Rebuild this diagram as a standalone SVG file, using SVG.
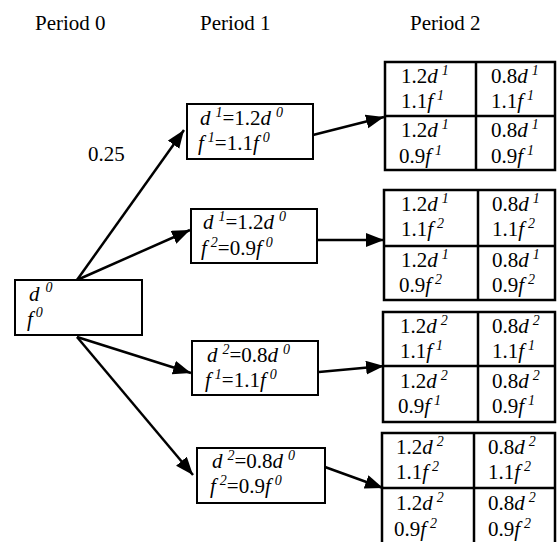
<svg xmlns="http://www.w3.org/2000/svg" width="558" height="542" viewBox="0 0 558 542">
<style>
text{font-family:'Liberation Serif','Times New Roman',serif;font-size:21px;fill:#000}
.i{font-style:italic}
.s{font-style:italic;font-size:14px}
.box{fill:#fff;stroke:#000;stroke-width:2}
.tb{fill:none;stroke:#000;stroke-width:2.5}
.cn{stroke:#000;stroke-width:2.5;fill:none;marker-end:url(#ah)}
</style>
<defs>
<marker id="ah" markerUnits="userSpaceOnUse" markerWidth="20" markerHeight="16" refX="18" refY="7" orient="auto">
<path d="M0,0 L18,7 L0,14 Z" fill="#000"/>
</marker>
</defs>
<rect width="558" height="542" fill="#fff"/>
<g id="headers">
<text x="35" y="30">Period 0</text>
<text x="200" y="30">Period 1</text>
<text x="410" y="30">Period 2</text>
</g>
<g id="connectors">
<line class="cn" x1="77" y1="280" x2="184" y2="130"/>
<line class="cn" x1="77" y1="280" x2="190" y2="230"/>
<line class="cn" x1="77" y1="337" x2="191" y2="373"/>
<line class="cn" x1="77" y1="337" x2="193" y2="475"/>
<line class="cn" x1="309" y1="136" x2="384" y2="117"/>
<line class="cn" x1="317" y1="240" x2="384" y2="240"/>
<line class="cn" x1="319" y1="372" x2="384" y2="366"/>
<line class="cn" x1="325" y1="467" x2="383" y2="488"/>
<text x="88" y="161">0.25</text>
</g>
<g id="root">
<rect class="box" x="15" y="280" width="127" height="55"/>
<text x="29" y="301"><tspan class="i">d</tspan><tspan class="s" dx="6" dy="-9">0</tspan></text>
<text x="27" y="326"><tspan class="i">f</tspan><tspan class="s" dx="3" dy="-9">0</tspan></text>
</g>
<g id="nodeA">
<rect class="box" x="187" y="104" width="126" height="55"/>
<text x="200" y="125"><tspan class="i">d</tspan><tspan class="s" dx="5" dy="-8">1</tspan><tspan dy="8">=1.2</tspan><tspan class="i">d</tspan><tspan class="s" dx="5" dy="-8">0</tspan></text>
<text x="198" y="150"><tspan class="i">f</tspan><tspan class="s" dx="4" dy="-8">1</tspan><tspan dy="8">=1.1</tspan><tspan class="i">f</tspan><tspan class="s" dx="4" dy="-8">0</tspan></text>
</g>
<g id="nodeB">
<rect class="box" x="191" y="209" width="126" height="54"/>
<text x="203" y="229"><tspan class="i">d</tspan><tspan class="s" dx="5" dy="-8">1</tspan><tspan dy="8">=1.2</tspan><tspan class="i">d</tspan><tspan class="s" dx="5" dy="-8">0</tspan></text>
<text x="201" y="255"><tspan class="i">f</tspan><tspan class="s" dx="4" dy="-8">2</tspan><tspan dy="8">=0.9</tspan><tspan class="i">f</tspan><tspan class="s" dx="4" dy="-8">0</tspan></text>
</g>
<g id="nodeC">
<rect class="box" x="192" y="341" width="126" height="54"/>
<text x="207" y="362"><tspan class="i">d</tspan><tspan class="s" dx="5" dy="-8">2</tspan><tspan dy="8">=0.8</tspan><tspan class="i">d</tspan><tspan class="s" dx="5" dy="-8">0</tspan></text>
<text x="205" y="387"><tspan class="i">f</tspan><tspan class="s" dx="4" dy="-8">1</tspan><tspan dy="8">=1.1</tspan><tspan class="i">f</tspan><tspan class="s" dx="4" dy="-8">0</tspan></text>
</g>
<g id="nodeD">
<rect class="box" x="197" y="448" width="128" height="55"/>
<text x="212" y="468"><tspan class="i">d</tspan><tspan class="s" dx="5" dy="-8">2</tspan><tspan dy="8">=0.8</tspan><tspan class="i">d</tspan><tspan class="s" dx="5" dy="-8">0</tspan></text>
<text x="210" y="493"><tspan class="i">f</tspan><tspan class="s" dx="4" dy="-8">2</tspan><tspan dy="8">=0.9</tspan><tspan class="i">f</tspan><tspan class="s" dx="4" dy="-8">0</tspan></text>
</g>
<g id="table1">
<rect class="tb" x="385" y="62" width="170" height="108"/>
<line class="tb" x1="476" y1="62" x2="476" y2="170"/>
<line class="tb" x1="385" y1="116" x2="555" y2="116"/>
<text x="401" y="83">1.2<tspan class="i">d</tspan><tspan class="s" dx="4" dy="-8">1</tspan></text>
<text x="401" y="108">1.1<tspan class="i">f</tspan><tspan class="s" dx="4" dy="-8">1</tspan></text>
<text x="491" y="83">0.8<tspan class="i">d</tspan><tspan class="s" dx="4" dy="-8">1</tspan></text>
<text x="491" y="108">1.1<tspan class="i">f</tspan><tspan class="s" dx="4" dy="-8">1</tspan></text>
<text x="401" y="137">1.2<tspan class="i">d</tspan><tspan class="s" dx="4" dy="-8">1</tspan></text>
<text x="399" y="163">0.9<tspan class="i">f</tspan><tspan class="s" dx="4" dy="-8">1</tspan></text>
<text x="491" y="137">0.8<tspan class="i">d</tspan><tspan class="s" dx="4" dy="-8">1</tspan></text>
<text x="491" y="163">0.9<tspan class="i">f</tspan><tspan class="s" dx="4" dy="-8">1</tspan></text>
</g>
<g id="table2">
<rect class="tb" x="384" y="190" width="171" height="110"/>
<line class="tb" x1="478" y1="190" x2="478" y2="300"/>
<line class="tb" x1="384" y1="246" x2="555" y2="246"/>
<text x="401" y="211">1.2<tspan class="i">d</tspan><tspan class="s" dx="4" dy="-8">1</tspan></text>
<text x="401" y="236">1.1<tspan class="i">f</tspan><tspan class="s" dx="4" dy="-8">2</tspan></text>
<text x="492" y="211">0.8<tspan class="i">d</tspan><tspan class="s" dx="4" dy="-8">1</tspan></text>
<text x="492" y="236">1.1<tspan class="i">f</tspan><tspan class="s" dx="4" dy="-8">2</tspan></text>
<text x="401" y="267">1.2<tspan class="i">d</tspan><tspan class="s" dx="4" dy="-8">1</tspan></text>
<text x="399" y="292">0.9<tspan class="i">f</tspan><tspan class="s" dx="4" dy="-8">2</tspan></text>
<text x="492" y="267">0.8<tspan class="i">d</tspan><tspan class="s" dx="4" dy="-8">1</tspan></text>
<text x="492" y="292">0.9<tspan class="i">f</tspan><tspan class="s" dx="4" dy="-8">2</tspan></text>
</g>
<g id="table3">
<rect class="tb" x="383" y="312" width="172" height="110"/>
<line class="tb" x1="478" y1="312" x2="478" y2="422"/>
<line class="tb" x1="383" y1="366" x2="555" y2="366"/>
<text x="400" y="333">1.2<tspan class="i">d</tspan><tspan class="s" dx="4" dy="-8">2</tspan></text>
<text x="400" y="358">1.1<tspan class="i">f</tspan><tspan class="s" dx="4" dy="-8">1</tspan></text>
<text x="492" y="333">0.8<tspan class="i">d</tspan><tspan class="s" dx="4" dy="-8">2</tspan></text>
<text x="492" y="358">1.1<tspan class="i">f</tspan><tspan class="s" dx="4" dy="-8">1</tspan></text>
<text x="400" y="388">1.2<tspan class="i">d</tspan><tspan class="s" dx="4" dy="-8">2</tspan></text>
<text x="398" y="413">0.9<tspan class="i">f</tspan><tspan class="s" dx="4" dy="-8">1</tspan></text>
<text x="492" y="388">0.8<tspan class="i">d</tspan><tspan class="s" dx="4" dy="-8">2</tspan></text>
<text x="492" y="413">0.9<tspan class="i">f</tspan><tspan class="s" dx="4" dy="-8">1</tspan></text>
</g>
<g id="table4">
<rect class="tb" x="382" y="433" width="173" height="115"/>
<line class="tb" x1="474" y1="433" x2="474" y2="548"/>
<line class="tb" x1="382" y1="488" x2="555" y2="488"/>
<text x="396" y="454">1.2<tspan class="i">d</tspan><tspan class="s" dx="4" dy="-8">2</tspan></text>
<text x="396" y="479">1.1<tspan class="i">f</tspan><tspan class="s" dx="4" dy="-8">2</tspan></text>
<text x="488" y="454">0.8<tspan class="i">d</tspan><tspan class="s" dx="4" dy="-8">2</tspan></text>
<text x="488" y="479">1.1<tspan class="i">f</tspan><tspan class="s" dx="4" dy="-8">2</tspan></text>
<text x="396" y="510">1.2<tspan class="i">d</tspan><tspan class="s" dx="4" dy="-8">2</tspan></text>
<text x="394" y="536">0.9<tspan class="i">f</tspan><tspan class="s" dx="4" dy="-8">2</tspan></text>
<text x="488" y="510">0.8<tspan class="i">d</tspan><tspan class="s" dx="4" dy="-8">2</tspan></text>
<text x="488" y="536">0.9<tspan class="i">f</tspan><tspan class="s" dx="4" dy="-8">2</tspan></text>
</g>
</svg>
